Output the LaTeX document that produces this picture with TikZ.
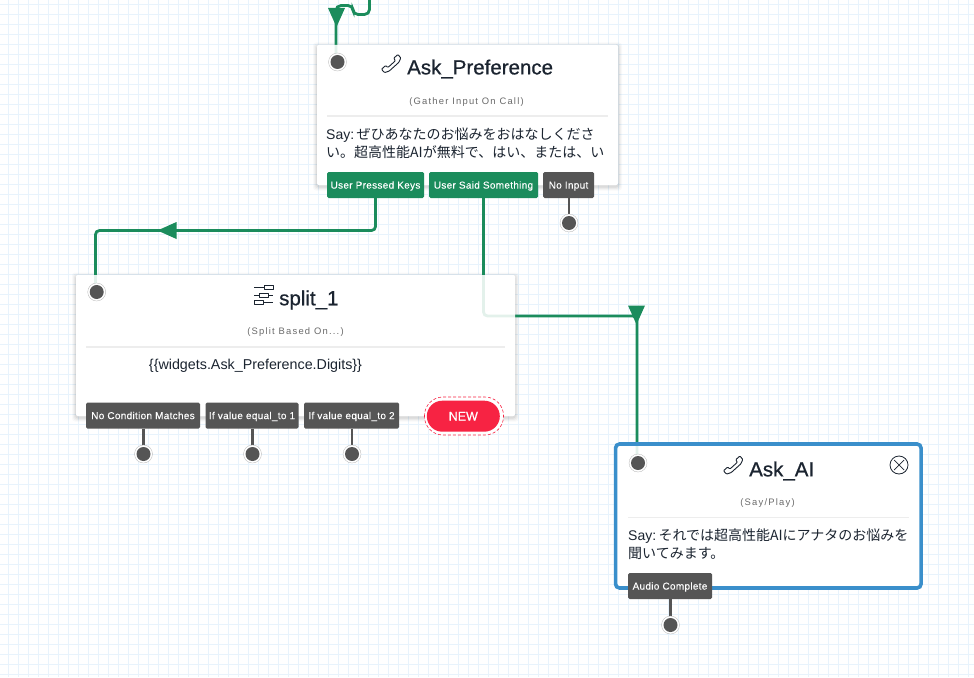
\documentclass[tikz,border=0pt]{standalone}
\usepackage{fontspec}
\setmainfont{Liberation Sans}
\newfontfamily\cjk{Noto Sans CJK JP}
\newfontfamily\spacedsub[LetterSpace=13]{Liberation Sans}
\newfontfamily\spacedbtn[LetterSpace=3,FakeBold=0.15]{Liberation Sans}
\newfontfamily\titlefont[FakeBold=0.7]{Liberation Sans}
\newfontfamily\pillfont[FakeBold=0.3]{Liberation Sans}
\usetikzlibrary{calc}
\definecolor{gridc}{HTML}{E8F3FC}
\definecolor{wiregreen}{HTML}{1B8C5C}
\definecolor{slatebtn}{HTML}{555555}
\definecolor{ink}{HTML}{1B2430}
\definecolor{subgrey}{HTML}{6A6A6A}
\definecolor{rule}{HTML}{EDEDED}
\definecolor{newred}{HTML}{F72343}
\definecolor{selblue}{HTML}{3A8FCB}
\pgfdeclarelayer{gridlayer}
\pgfdeclarelayer{wirelayer}
\pgfsetlayers{gridlayer,wirelayer,main}
\tikzset{
  card/.style={draw=none,fill=white,fill opacity=.88,text opacity=1,rounded corners=2pt,inner sep=0,outer sep=0},
  selcard/.style={card,draw=selblue,draw opacity=1,line width=3.6pt,rounded corners=4pt},
  title/.style={text=ink,inner sep=0,font=\fontsize{20.5}{24}\titlefont},
  sub/.style={text=subgrey,inner sep=0,font=\fontsize{9.4}{11}\spacedsub},
  bodytext/.style={text=ink,inner sep=0,align=left,anchor=north west,font=\fontsize{14}{18}\selectfont},
  btn/.style={rounded corners=1.5pt,text=white,inner sep=0,minimum height=26pt,text height=7.2pt,text depth=0pt,font=\fontsize{10}{12}\spacedbtn},
  gbtn/.style={btn,fill=wiregreen},
  dbtn/.style={btn,fill=slatebtn},
  port/.style={circle,fill=slatebtn,minimum size=14pt,inner sep=0,outer sep=0},
  portring/.style={circle,draw=gray!60,fill=white,line width=.3pt,minimum size=18pt,inner sep=0},
  wire/.style={draw=wiregreen,line width=2.8pt,rounded corners=4pt},
  stub/.style={draw=slatebtn,line width=2.8pt},
  rulel/.style={draw=rule,line width=1.2pt},
  icon/.style={draw=ink,line width=.9pt,line join=round},
  phone/.pic={
    \draw[icon,rotate=42,rounded corners=.8pt]
      (-11,-3.5) -- (-5.5,-3.5) -- (-5,-.5) -- (5,-.5) -- (5.5,-3.5) -- (11,-3.5) -- (11,1)
      -- (6.5,3) -- (-6.5,3) -- (-11,1) -- cycle;
  },
  arrowmark/.pic={\fill[wiregreen] (-8.5,-9.5) -- (8.5,-9.5) -- (0,9.5) -- cycle;},
}
\begin{document}
\begin{tikzpicture}[x=1pt,y=-1pt]
\useasboundingbox (0,0) rectangle (974,677);

\begin{pgfonlayer}{gridlayer}
  \fill[white] (0,0) rectangle (974,677);
  \foreach \gx in {0,...,96} \draw[gridc,line width=.9pt] (8.5+10*\gx,0) -- (8.5+10*\gx,677);
  \foreach \gy in {0,...,67} \draw[gridc,line width=.9pt] (0,4.5+10*\gy) -- (974,4.5+10*\gy);
  % soft card shadows, then an opaque base so that wires show only faintly through the cards
  \foreach \sz/\op in {4/.025,3/.03,2/.04,1/.05}{
    \fill[black,opacity=\op,rounded corners=3pt] (317-\sz,45-\sz+1.5) rectangle (618+\sz,185+\sz+1.5);
    \fill[black,opacity=\op,rounded corners=3pt] (76-\sz,275-\sz+1.5) rectangle (515+\sz,416+\sz+1.5);
  }
  \fill[white,rounded corners=2pt] (317,45) rectangle (618,185);
  \fill[white,rounded corners=2pt] (76,275) rectangle (515,416);
  \fill[white,rounded corners=4pt] (615.5,444) rectangle (921,588);
\end{pgfonlayer}

% Cards
\node[card,minimum width=301pt,minimum height=140pt] (askpref) at (467.5,115) {};
\node[card,minimum width=439pt,minimum height=141pt] (split) at (295.5,345.5) {};
\node[selcard,minimum width=305.5pt,minimum height=144pt] (askai) at (768.3,516) {};

% Ask_Preference
\pic at (392,64.5) {phone};
\node[title,anchor=west] (t1) at (407,69) {Ask\_Preference};
\node[sub] (s1) at (466.5,102) {(Gather Input On Call)};
\draw[rulel] (327,116) -- (608,116);
\node[bodytext] (b1) at (326,127.5) {Say:\hspace{2.3pt}{\cjk ぜひあなたのお悩みをおはなしくださ}\\{\cjk い。超高性能AIが無料で、はい、または、い}};
\node[gbtn,minimum width=97pt] (keys) at (375.5,185) {User Pressed Keys};
\node[gbtn,minimum width=109pt] (said) at (483.5,185) {User Said Something};
\node[dbtn,minimum width=51pt] (noinput) at (568.5,185) {No Input};

% split_1
\draw[icon,line width=1pt] (264,285.5) rectangle (273,289.5);
\draw[icon,line width=1pt] (259,293) rectangle (268,297);
\draw[icon,line width=1pt] (254,300) rectangle (263,304);
\draw[icon,line width=1pt] (254,287.5) -- (264,287.5) (254,295) -- (259,295) (268,295) -- (273,295) (263,302) -- (273,302);
\node[title,anchor=west] (t2) at (279,300) {split\_1};
\node[sub] (s2) at (295.5,332) {(Split Based On...)};
\draw[rulel] (86,347) -- (505,347);
\node[text=ink,inner sep=0,font=\fontsize{14.3}{18}\selectfont] (b2) at (255.5,365.5) {\{\{widgets.Ask\_Preference.Digits\}\}};
\node[dbtn,minimum width=114pt] (nocond) at (143,415.5) {No Condition Matches};
\node[dbtn,minimum width=93pt] (eq1) at (252,415.5) {If value equal\_to 1};
\node[dbtn,minimum width=95pt] (eq2) at (351.5,415.5) {If value equal\_to 2};
\draw[newred,densely dashed,line width=.6pt,fill=white,rounded corners=18.5pt] (424.5,397) rectangle (503.5,435);
\node[fill=newred,text=white,rounded corners=15.5pt,minimum width=73pt,minimum height=31pt,inner sep=0,font=\fontsize{12.5}{14}\pillfont] (newbtn) at (463.3,416.2) {NEW};

% Ask_AI
\pic at (734,466) {phone};
\node[title,anchor=west] (t3) at (749,471) {Ask\_AI};
\node[sub] (s3) at (767.5,503) {(Say/Play)};
\draw[rulel,line width=1pt] (628,517.5) -- (909,517.5);
\node[bodytext] (b3) at (628,528.5) {Say:\hspace{2.3pt}{\cjk それでは超高性能AIにアナタのお悩みを}\\{\cjk 聞いてみます。}};
\node[dbtn,minimum width=84pt] (audio) at (670,586) {Audio Complete};
\node[circle,draw=ink,line width=.8pt,minimum size=18pt,inner sep=0] (closeic) at (899,465) {};
\draw[ink,line width=.7pt] ($(closeic)+(-5,-5)$) -- ($(closeic)+(5,5)$) ($(closeic)+(-5,5)$) -- ($(closeic)+(5,-5)$);

% Ports
\foreach \pn/\px/\py in {pPref/337.5/62,pSplit/96.7/292,pAI/638/463,pNo/569/223,pCond/143.5/454,pEq1/252.5/454,pEq2/352/454,pAudio/670.5/625}{
  \node[portring] at (\px,\py) {};
  \node[port] (\pn) at (\px,\py) {};
}

% Free ends of connectors
\coordinate (feed) at (369.5,0);
\coordinate (inPref) at (336,55);
\coordinate (inSplit) at (95.5,285);
\coordinate (inAI) at (637,456);

\begin{pgfonlayer}{wirelayer}
  \draw[wire,rounded corners=5pt] (feed) -- (369.5,14.5) -- (353,14.5) -- (353,5.5) -- (336,5.5) -- (inPref);
  \draw[wire] (keys.south) -- (keys.south |- 0,230.5) -- (95.5,230.5) -- (inSplit);
  \draw[wire] (said.south) -- (said.south |- 0,316) -- (637,316) -- (inAI);
  \draw[stub] (noinput.south -| pNo) -- (pNo);
  \draw[stub] (nocond.south -| pCond) -- (pCond);
  \draw[stub] (eq1.south -| pEq1) -- (pEq1);
  \draw[stub] (eq2.south -| pEq2) -- (pEq2);
  \draw[stub] (audio.south -| pAudio) -- (pAudio);
\end{pgfonlayer}
\pic at (336.5,17.5) {arrowmark};
\pic[rotate=-90] at (167,230.5) {arrowmark};
\pic at (636.5,315) {arrowmark};
\end{tikzpicture}
\end{document}
